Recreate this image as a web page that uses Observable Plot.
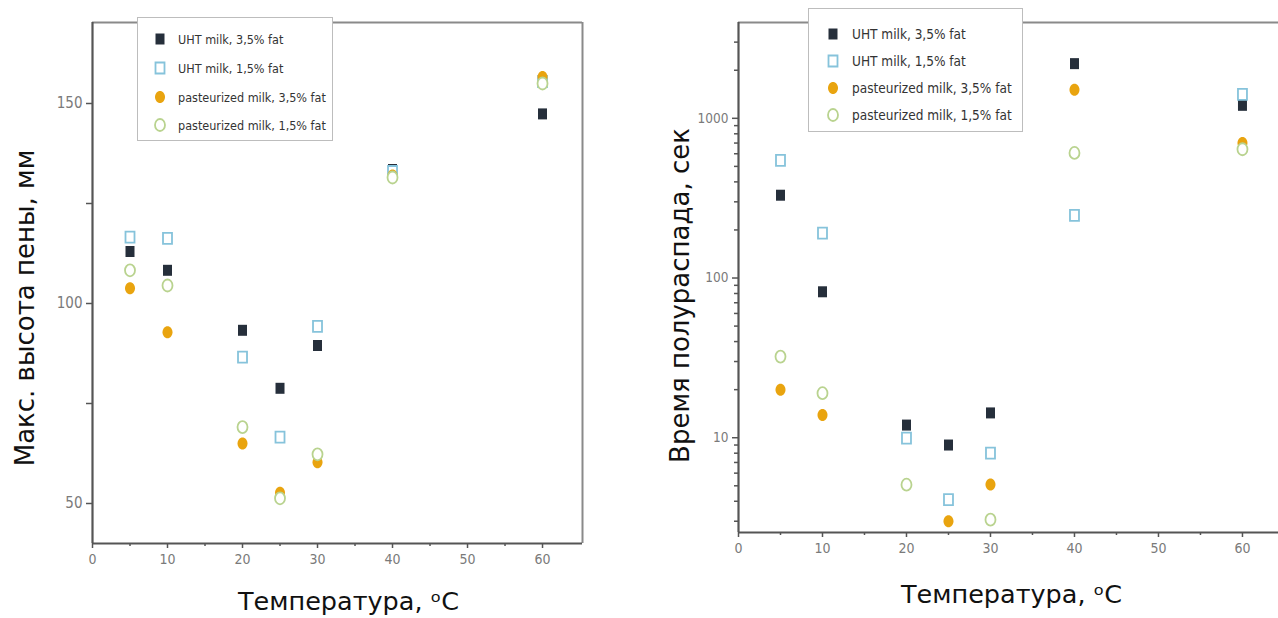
<!DOCTYPE html>
<html>
<head>
<meta charset="utf-8">
<script src="https://cdn.jsdelivr.net/npm/d3@7"></script>
<script src="https://cdn.jsdelivr.net/npm/@observablehq/plot@0.6"></script>
<style>
  html, body { margin: 0; padding: 0; background: #fff; }
  #wrap { position: relative; width: 1278px; height: 618px; overflow: hidden; }
  #left { position: absolute; left: 0; top: 0; }
  #right { position: absolute; left: 620px; top: 0; }
  .legend { position: absolute; background: #fff; border: 1px solid #bdbdbd; box-sizing: border-box;
            font-family: "Liberation Sans Narrow", "DejaVu Sans Condensed", sans-serif; color: #333; }
  .legend .row { position: absolute; white-space: nowrap; display: flex; align-items: center; }
  .legend svg { overflow: visible; }
</style>
</head>
<body>
<div id="wrap">
  <div id="left"></div>
  <div id="right"></div>
  <div id="legL" class="legend" style="left:137px; top:17px; width:196px; height:124px; font-size:12.5px;"></div>
  <div id="legR" class="legend" style="left:808px; top:8px; width:215px; height:124px; font-size:13.5px;"></div>
</div>
<script>
// ---- data ----
const temps = [5, 10, 20, 25, 30, 40, 60];
const seriesNames = ["UHT milk, 3,5% fat", "UHT milk, 1,5% fat", "pasteurized milk, 3,5% fat", "pasteurized milk, 1,5% fat"];
// Left: max foam height, mm
const foamUHT35  = [113.0, 108.3, 93.3, 78.8, 89.5, 133.5, 147.4];
const foamUHT15  = [116.6, 116.3, 86.6, 66.6, 94.3, 133.0, 155.5];
const foamPast35 = [103.8, 92.8, 65.0, 52.7, 60.3, 132.0, 156.6];
const foamPast15 = [108.3, 104.5, 69.1, 51.3, 62.3, 131.5, 155.0];
// Right: half-life time, s
const halfUHT35  = [330, 82, 12.0, 9.0, 14.3, 2200, 1206];
const halfUHT15  = [546, 191, 9.95, 4.1, 8.0, 247, 1413];
const halfPast35 = [20, 13.9, null, 3.0, 5.1, 1511, 700];
const halfPast15 = [32.2, 19, 5.08, null, 3.07, 607, 640];
// tick values
const leftYMajor = [50, 100, 150];
const leftYMinor = [75, 125];
const xMajor = [0, 10, 20, 30, 40, 50, 60];
const xMinor = [5, 15, 25, 35, 45, 55];
const rightYMajor = [10, 100, 1000];
const rightYMinor = [3,4,5,6,7,8,9,20,30,40,50,60,70,80,90,200,300,400,500,600,700,800,900,2000,3000];

// ---- styles ----
const colors = ["#262f3b", "#86c3db", "#e9a40f", "#b9d38f"];
const filled = [true, false, true, false];
const axisColor = "#555";
const tickTextColor = "#7a7a7a";
const tickFont = "'DejaVu Sans Condensed', 'DejaVu Sans', sans-serif";
const titleFont = "'DejaVu Sans', Verdana, sans-serif";

const rectSym = { draw(ctx) { ctx.moveTo(-4.5, -5.5); ctx.lineTo(4.5, -5.5); ctx.lineTo(4.5, 5.5); ctx.lineTo(-4.5, 5.5); ctx.closePath(); } };
const ellSym = { draw(ctx) {
  const rx = 5, ry = 6, k = 0.5523;
  ctx.moveTo(rx, 0);
  ctx.bezierCurveTo(rx, ry * k, rx * k, ry, 0, ry);
  ctx.bezierCurveTo(-rx * k, ry, -rx, ry * k, -rx, 0);
  ctx.bezierCurveTo(-rx, -ry * k, -rx * k, -ry, 0, -ry);
  ctx.bezierCurveTo(rx * k, -ry, rx, -ry * k, rx, 0);
  ctx.closePath();
} };
const symbols = [rectSym, rectSym, ellSym, ellSym];

function rows(arrs) {
  return arrs.map((arr, i) => temps.map((t, j) => ({ t, v: arr[j], s: seriesNames[i], i }))
    .filter(d => d.v != null));
}
function dotMarks(series) {
  return series.map((data, i) => Plot.dot(data, {
    x: "t", y: "v", symbol: symbols[i],
    fill: filled[i] ? colors[i] : "#fff",
    stroke: filled[i] ? "none" : colors[i],
    strokeWidth: 1.8
  }));
}

// ---- left chart ----
const lx = [0, 65.33], ly = [40, 170.25];
const left = Plot.plot({
  width: 620, height: 618,
  marginLeft: 92, marginRight: 38, marginTop: 22, marginBottom: 75,
  style: { fontFamily: tickFont, background: "transparent" },
  x: { domain: lx },
  y: { domain: ly },
  marks: [
    Plot.ruleY([ly[1]], { stroke: "#8a8a8a", strokeWidth: 2 }),
    Plot.ruleX([lx[1]], { stroke: "#8a8a8a", strokeWidth: 2 }),
    Plot.axisY({ ticks: leftYMajor, tickSize: 6, tickPadding: 4, label: null, fontSize: 15, stroke: axisColor, fill: tickTextColor, strokeWidth: 1.5 }),
    Plot.axisY({ ticks: leftYMinor, tickSize: 6, tickFormat: () => "", label: null, stroke: axisColor, strokeWidth: 1.5 }),
    Plot.axisX({ ticks: xMajor, tickSize: 5, tickPadding: 6, label: null, fontSize: 14, stroke: axisColor, fill: tickTextColor, strokeWidth: 1.5 }),
    Plot.axisX({ ticks: xMinor, tickSize: 3, tickFormat: () => "", label: null, stroke: axisColor, strokeWidth: 1.5 }),
    Plot.ruleX([lx[0]], { stroke: axisColor, strokeWidth: 2.2 }),
    Plot.ruleY([ly[0]], { stroke: axisColor, strokeWidth: 2.2 }),
    ...dotMarks(rows([foamUHT35, foamUHT15, foamPast35, foamPast15])),
    Plot.text(["Макс. высота пены, мм"], { frameAnchor: "left", textAnchor: "middle", dx: -67, dy: 25, rotate: -90, fontSize: 26, fill: "#111", fontFamily: titleFont }),
    Plot.text(["Температура, ᵒC"], { frameAnchor: "bottom", textAnchor: "middle", dx: 11, dy: 66, fontSize: 25.5, fill: "#111", fontFamily: titleFont })
  ]
});
document.getElementById("left").append(left);

// ---- right chart ----
const rx = [0, 64.29], ry = [2.55, 3981];
const right = Plot.plot({
  width: 658, height: 618,
  marginLeft: 118, marginRight: 0, marginTop: 22, marginBottom: 86,
  style: { fontFamily: tickFont, background: "transparent" },
  x: { domain: rx },
  y: { type: "log", domain: ry },
  marks: [
    Plot.ruleY([ry[1]], { stroke: "#8a8a8a", strokeWidth: 2 }),
    Plot.axisY({ ticks: rightYMajor, tickSize: 6, tickPadding: 4, tickFormat: d => String(d), label: null, fontSize: 13.5, stroke: axisColor, fill: tickTextColor, strokeWidth: 1.5 }),
    Plot.axisY({ ticks: rightYMinor, tickSize: 4, tickFormat: () => "", label: null, stroke: axisColor, strokeWidth: 1.5 }),
    Plot.axisX({ ticks: xMajor, tickSize: 5, tickPadding: 6, label: null, fontSize: 14, stroke: axisColor, fill: tickTextColor, strokeWidth: 1.5 }),
    Plot.axisX({ ticks: xMinor, tickSize: 3, tickFormat: () => "", label: null, stroke: axisColor, strokeWidth: 1.5 }),
    Plot.ruleX([rx[0]], { stroke: axisColor, strokeWidth: 2.2 }),
    Plot.ruleY([ry[0]], { stroke: axisColor, strokeWidth: 2.2 }),
    ...dotMarks(rows([halfUHT35, halfUHT15, halfPast35, halfPast15])),
    Plot.text(["Время полураспада, сек"], { frameAnchor: "left", textAnchor: "middle", dx: -58, dy: 18, rotate: -90, fontSize: 26, fill: "#111", fontFamily: titleFont }),
    Plot.text(["Температура, ᵒC"], { frameAnchor: "bottom", textAnchor: "middle", dx: 3, dy: 70, fontSize: 25.5, fill: "#111", fontFamily: titleFont })
  ]
});
document.getElementById("right").append(right);

// ---- legends ----
function legendSymbol(i) {
  const ns = "http://www.w3.org/2000/svg";
  const svg = document.createElementNS(ns, "svg");
  svg.setAttribute("width", 12); svg.setAttribute("height", 14);
  const p = document.createElementNS(ns, "path");
  const path = d3.path();
  symbols[i].draw(path);
  p.setAttribute("d", path.toString());
  p.setAttribute("transform", "translate(6,7)");
  p.setAttribute("fill", filled[i] ? colors[i] : "#fff");
  p.setAttribute("stroke", filled[i] ? "none" : colors[i]);
  p.setAttribute("stroke-width", 1.8);
  svg.append(p);
  return svg;
}
function buildLegend(id, symX, textX, rowYs) {
  const el = document.getElementById(id);
  seriesNames.forEach((name, i) => {
    const r = document.createElement("div");
    r.className = "row";
    r.style.left = symX + "px";
    r.style.top = (rowYs[i] - 8) + "px";
    r.style.height = "16px";
    const s = legendSymbol(i);
    s.style.marginRight = (textX - symX - 12) + "px";
    r.append(s);
    const t = document.createElement("span");
    t.textContent = name;
    r.append(t);
    el.append(r);
  });
}
// positions relative to each legend box
buildLegend("legL", 16, 40, [21, 50, 79, 107]);
buildLegend("legR", 18, 43, [25, 52, 79, 106]);
</script>
</body>
</html>
